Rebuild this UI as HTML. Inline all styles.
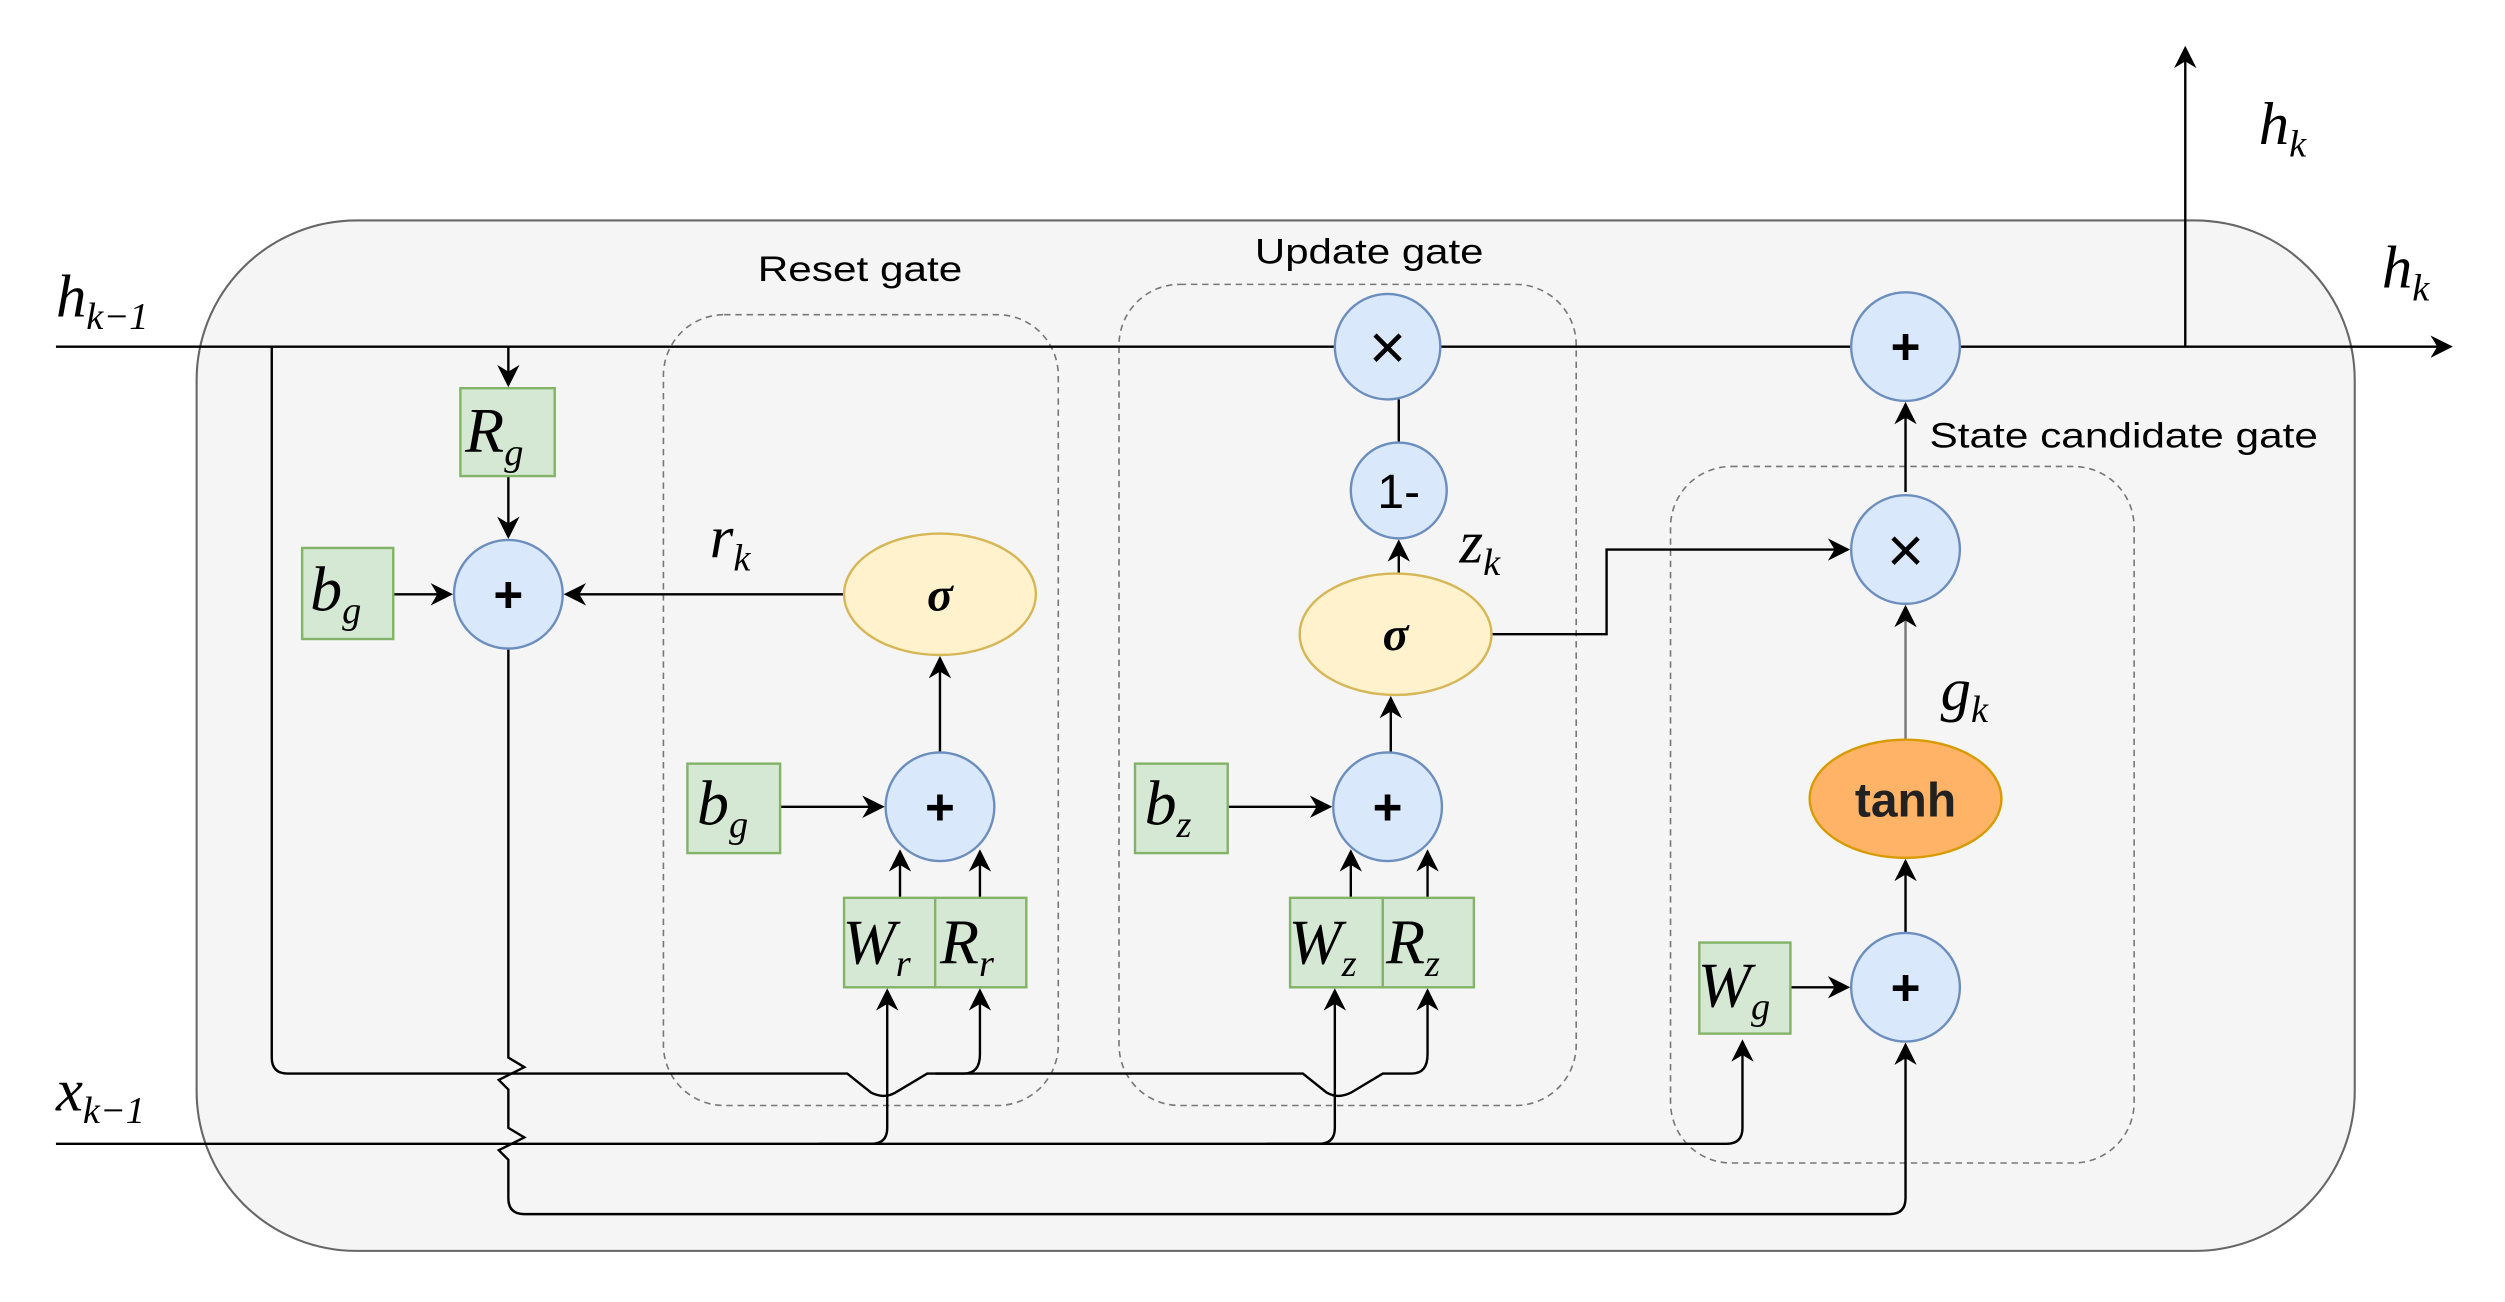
<!DOCTYPE html>
<html><head><meta charset="utf-8"><style>
html,body{margin:0;padding:0;background:#fff;}
svg{display:block;}
.m{font-family:"Liberation Serif",serif;font-style:italic;}
.s{font-family:"Liberation Sans",sans-serif;}
</style></head><body>
<svg width="2505" height="1302" viewBox="0 0 1567 815" preserveAspectRatio="none" xmlns="http://www.w3.org/2000/svg">
<defs>
<marker id="b" viewBox="0 0 10 10" refX="9" refY="5" markerWidth="14" markerHeight="14" orient="auto" markerUnits="userSpaceOnUse">
<path d="M0,0 L10,5 L0,10 L3,5 z" fill="#000"/></marker>
</defs>
<rect x="123" y="138" width="1350" height="645" rx="100" fill="#f5f5f5" stroke="#666" stroke-width="1.3"/>
<rect x="415" y="197" width="247" height="495" rx="38" fill="none" stroke="#777" stroke-dasharray="4 3"/>
<rect x="700" y="178" width="286" height="514" rx="38" fill="none" stroke="#777" stroke-dasharray="4 3"/>
<rect x="1045" y="292" width="290" height="436" rx="38" fill="none" stroke="#777" stroke-dasharray="4 3"/>
<text x="474" y="176" font-size="22" textLength="128" lengthAdjust="spacingAndGlyphs" class="s">Reset gate</text>
<text x="785" y="165" font-size="22" textLength="143" lengthAdjust="spacingAndGlyphs" class="s">Update gate</text>
<text x="1207" y="280" font-size="22" textLength="243" lengthAdjust="spacingAndGlyphs" class="s">State candidate gate</text>
<g fill="none" stroke="#000" stroke-width="1.5">
<path d="M35,217 H835"/>
<path d="M901,217 H1158"/>
<path d="M1226,217 H1533" marker-end="url(#b)"/>
<path d="M1367,217 V30" marker-end="url(#b)"/>
<path d="M35,716 H1080 Q1090,716 1090,706 V652" marker-end="url(#b)"/>
<path d="M512,716 H545 Q555,716 555,706 V620" marker-end="url(#b)"/>
<path d="M792,716 H825 Q835,716 835,706 V620" marker-end="url(#b)"/>
<path d="M170,217 V662 Q170,672 180,672 H530 L545,684 Q553,688 560,684 L580,672 H815 L830,684 Q837,688 845,684 L865,672 H883 Q893,672 893,660 V620" marker-end="url(#b)"/>
<path d="M585,672 H603 Q613,672 613,660 V620" marker-end="url(#b)"/>
<path d="M318,217 V241" marker-end="url(#b)"/>
<path d="M318,298 V336" marker-end="url(#b)"/>
<path d="M246,372 H282" marker-end="url(#b)"/>
<path d="M528,372 H354" marker-end="url(#b)"/>
<path d="M318,406 V662 L328,668 L312,676 L318,682 V706 L328,712 L312,720 L318,726 V750 Q318,760 328,760 H1182 Q1192,760 1192,750 V654" marker-end="url(#b)"/>
<path d="M488,505 H552" marker-end="url(#b)"/>
<path d="M563,562 V533" marker-end="url(#b)"/>
<path d="M613,562 V533" marker-end="url(#b)"/>
<path d="M588,471 V412" marker-end="url(#b)"/>
<path d="M768,505 H832" marker-end="url(#b)"/>
<path d="M845,562 V533" marker-end="url(#b)"/>
<path d="M893,562 V533" marker-end="url(#b)"/>
<path d="M870,471 V437" marker-end="url(#b)"/>
<path d="M875,359 V339" marker-end="url(#b)"/>
<path d="M875,277 V250"/>
<path d="M933,397 H1005 V344 H1156" marker-end="url(#b)"/>
<path d="M1120,618 H1156" marker-end="url(#b)"/>
<path d="M1192,584 V539" marker-end="url(#b)"/>
<path d="M1192,463 V380" stroke="#777" marker-end="url(#b)"/>
<path d="M1192,308 V253" marker-end="url(#b)"/>
</g>
<g fill="#dae8fc" stroke="#6c8ebf" stroke-width="1.5">
<circle cx="318" cy="372" r="34"/>
<circle cx="588" cy="505" r="34"/>
<circle cx="868" cy="505" r="34"/>
<circle cx="868" cy="217" r="33"/>
<circle cx="875" cy="307" r="30"/>
<circle cx="1192" cy="217" r="34"/>
<circle cx="1192" cy="344" r="34"/>
<circle cx="1192" cy="618" r="34"/>
</g>
<g class="s" font-size="32" font-weight="bold" text-anchor="middle">
<text x="318" y="383">+</text>
<text x="588" y="516">+</text>
<text x="868" y="516">+</text>
<text x="1192" y="228">+</text>
<text x="1192" y="629">+</text>
<text x="868" y="231" font-size="40" font-weight="normal">×</text>
<text x="1192" y="358" font-size="40" font-weight="normal">×</text>
<text x="875" y="318" font-size="30" font-weight="normal">1-</text>
</g>
<ellipse cx="588" cy="372" rx="60" ry="38" fill="#fff2cc" stroke="#d6b656" stroke-width="1.5"/>
<ellipse cx="873" cy="397" rx="60" ry="38" fill="#fff2cc" stroke="#d6b656" stroke-width="1.5"/>
<ellipse cx="1192" cy="500" rx="60" ry="37" fill="#ffb366" stroke="#d79b00" stroke-width="1.5"/>
<text x="588" y="382" font-size="30" font-weight="bold" text-anchor="middle" class="m">σ</text>
<text x="873" y="407" font-size="30" font-weight="bold" text-anchor="middle" class="m">σ</text>
<text x="1192" y="511" font-size="30" text-anchor="middle" class="s" font-weight="bold" fill="#222">tanh</text>
<g fill="#d5e8d4" stroke="#82b366" stroke-width="1.5">
<rect x="288" y="243" width="59" height="55"/>
<rect x="189" y="343" width="57" height="57"/>
<rect x="430" y="478" width="58" height="56"/>
<rect x="528" y="562" width="57" height="56"/>
<rect x="585" y="562" width="57" height="56"/>
<rect x="710" y="478" width="58" height="56"/>
<rect x="807" y="562" width="58" height="56"/>
<rect x="865" y="562" width="57" height="56"/>
<rect x="1063" y="590" width="57" height="57"/>
</g>
<g class="m" font-size="40">
<text x="291" y="283">R<tspan font-size="24" dy="8">g</tspan></text>
<text x="194" y="382">b<tspan font-size="24" dy="8">g</tspan></text>
<text x="436" y="516">b<tspan font-size="24" dy="8">g</tspan></text>
<text x="716" y="516">b<tspan font-size="24" dy="8">z</tspan></text>
<text x="527" y="603">W<tspan font-size="24" dy="8">r</tspan></text>
<text x="588" y="603">R<tspan font-size="24" dy="8">r</tspan></text>
<text x="806" y="603">W<tspan font-size="24" dy="8">z</tspan></text>
<text x="867" y="603">R<tspan font-size="24" dy="8">z</tspan></text>
<text x="1062" y="630">W<tspan font-size="24" dy="8">g</tspan></text>
</g>
<g class="m" font-size="38">
<text x="35" y="198">h<tspan font-size="24" dy="8">k−1</tspan></text>
<text x="35" y="695">x<tspan font-size="24" dy="8">k−1</tspan></text>
<text x="1413" y="90">h<tspan font-size="24" dy="8">k</tspan></text>
<text x="1490" y="180">h<tspan font-size="24" dy="8">k</tspan></text>
<text x="444" y="349">r<tspan font-size="24" dy="8">k</tspan></text>
<text x="913" y="352">z<tspan font-size="24" dy="8">k</tspan></text>
<text x="1214" y="444">g<tspan font-size="24" dy="8">k</tspan></text>
</g>
</svg>
</body></html>
